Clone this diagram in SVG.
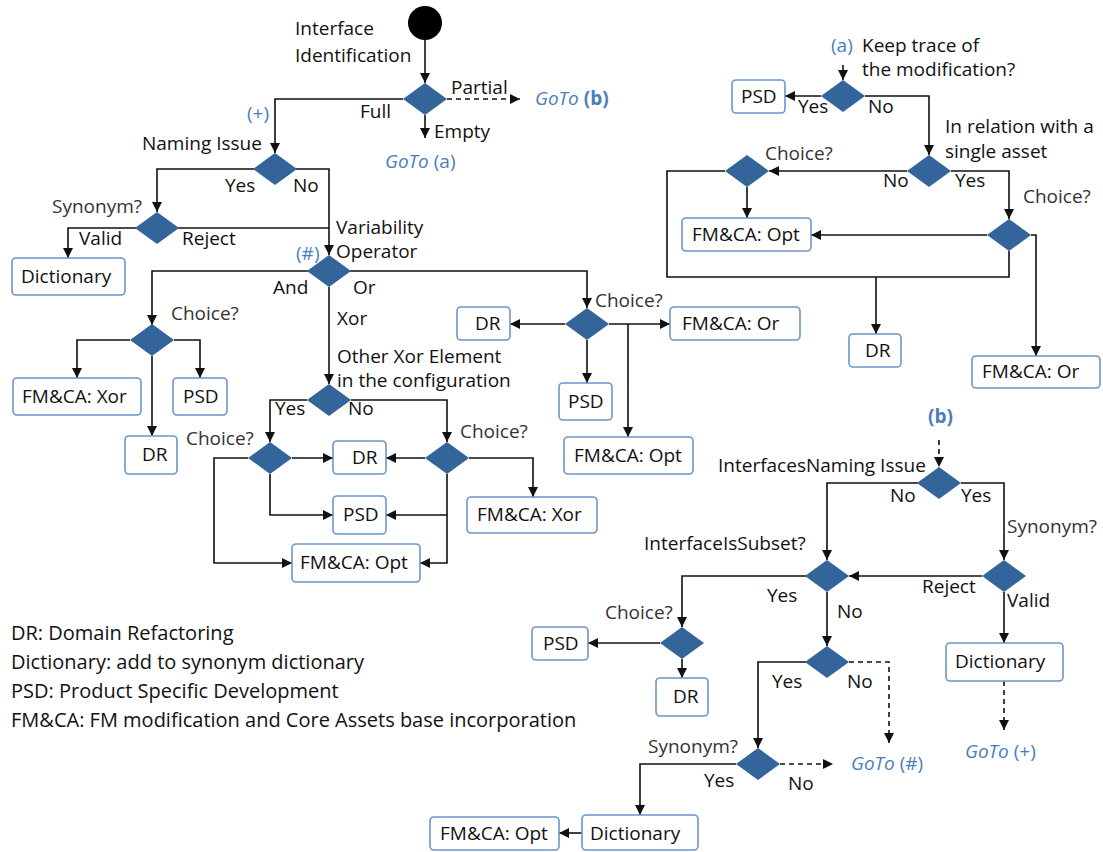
<svg xmlns="http://www.w3.org/2000/svg" width="1103" height="852" viewBox="0 0 1103 852">
<defs>
<style>
.t{font-family:"Open Sans","Noto Sans",sans-serif;font-size:19px;fill:#111}
.lg{font-size:20px}
.g{fill:#333}
.bl{fill:#4a7dbd}
.it{font-style:italic}
.bd{font-weight:bold}
.box{fill:#fff;stroke:#6b95c9;stroke-width:1.6}
.dia{fill:#33649a}
.ln{fill:none;stroke:#111;stroke-width:1.6}
.ar{marker-end:url(#ah)}
.dash{stroke-dasharray:5 4}
</style>
<marker id="ah" markerUnits="userSpaceOnUse" markerWidth="11" markerHeight="11" refX="10" refY="5" orient="auto">
<path d="M0,0 L10,5 L0,10 Z" fill="#111"/>
</marker>
<path id="dm" class="dia" d="M-22,0 L0,-16 L22,0 L0,16 Z"/>
</defs>
<rect width="1103" height="852" fill="#fff"/>

<g id="connectors">
<path class="ln ar" d="M425,40 V83"/>
<path class="ln ar" d="M403,99 H275 V153"/>
<path class="ln ar dash" d="M447,99 H520"/>
<path class="ln ar" d="M425,115 V138"/>
<path class="ln ar" d="M254,169 H157 V212"/>
<path class="ln ar" d="M296,169 H329 V255"/>
<path class="ln" d="M178,228 H329"/>
<path class="ln ar" d="M136,228 H68 V258"/>
<path class="ln ar" d="M308,271 H152 V325"/>
<path class="ln ar" d="M350,271 H587 V308"/>
<path class="ln ar" d="M329,287 V384"/>
<path class="ln ar" d="M130,340 H77 V378"/>
<path class="ln ar" d="M174,340 H200 V378"/>
<path class="ln ar" d="M152,356 V436"/>
<path class="ln ar" d="M307,400 H270 V442"/>
<path class="ln ar" d="M351,400 H447 V442"/>
<path class="ln ar" d="M292,458 H333"/>
<path class="ln ar" d="M270,474 V515 H333"/>
<path class="ln ar" d="M248,458 H214 V563 H292"/>
<path class="ln ar" d="M425,458 H386"/>
<path class="ln ar" d="M447,474 V563 H420"/>
<path class="ln ar" d="M447,515 H386"/>
<path class="ln ar" d="M469,458 H533 V497"/>
<path class="ln ar" d="M565,324 H510"/>
<path class="ln ar" d="M609,324 H670"/>
<path class="ln ar" d="M587,340 V383"/>
<path class="ln ar" d="M628,324 V437"/>
<path class="ln ar" d="M843,65 V80"/>
<path class="ln ar" d="M821,96 H785"/>
<path class="ln ar" d="M865,96 H929 V155"/>
<path class="ln ar" d="M907,171 H769"/>
<path class="ln ar" d="M747,187 V218"/>
<path class="ln" d="M725,171 H667 V277 H1009 V251"/>
<path class="ln ar" d="M876,277 V334"/>
<path class="ln ar" d="M951,171 H1009 V219"/>
<path class="ln ar" d="M987,235 H811"/>
<path class="ln ar" d="M1031,235 H1036 V356"/>
<path class="ln ar dash" d="M939,440 V467"/>
<path class="ln ar" d="M918,483 H827 V560"/>
<path class="ln ar" d="M961,483 H1004 V560"/>
<path class="ln ar" d="M982,576 H849"/>
<path class="ln ar" d="M1004,592 V643"/>
<path class="ln ar dash" d="M1004,681 V730"/>
<path class="ln ar" d="M806,576 H682 V627"/>
<path class="ln ar" d="M827,592 V646"/>
<path class="ln ar" d="M660,643 H588"/>
<path class="ln ar" d="M682,659 V678"/>
<path class="ln ar dash" d="M849,662 H889 V743"/>
<path class="ln ar" d="M806,662 H758 V748"/>
<path class="ln ar dash" d="M780,764 H833"/>
<path class="ln ar" d="M736,764 H640 V815"/>
<path class="ln ar" d="M582,833 H559"/>
</g>

<g id="start"><circle cx="425" cy="23" r="17" fill="#000"/>
<text class="t" x="295" y="35">Interface</text><text class="t" x="295" y="62">Identification</text></g>

<g id="d-identification"><use href="#dm" x="425" y="99"/>
<text class="t" x="360" y="118">Full</text><text class="t" x="451" y="94">Partial</text><text class="t" x="434" y="138">Empty</text>
<text class="t bl" x="535" y="105"><tspan class="it">GoTo</tspan> <tspan class="bd">(b)</tspan></text>
<text class="t bl" x="385" y="168"><tspan class="it">GoTo</tspan> (a)</text></g>

<g id="d-naming"><use href="#dm" x="275" y="169"/>
<text class="t bl" x="247" y="120">(+)</text>
<text class="t" x="142" y="150">Naming Issue</text>
<text class="t" x="225" y="192">Yes</text><text class="t" x="293" y="192">No</text></g>

<g id="d-synonym1"><use href="#dm" x="157" y="228"/>
<text class="t g" x="52" y="213">Synonym?</text>
<text class="t" x="79" y="245">Valid</text><text class="t" x="182" y="245">Reject</text></g>

<g id="n-dictionary1"><rect class="box" x="12" y="258" width="113" height="37" rx="4"/><text class="t" x="21" y="283">Dictionary</text></g>

<g id="d-variability"><use href="#dm" x="329" y="271"/>
<text class="t" x="336" y="234">Variability</text><text class="t" x="336" y="258">Operator</text>
<text class="t bl" x="296" y="260">(#)</text>
<text class="t" x="273" y="294">And</text><text class="t" x="353" y="294">Or</text><text class="t" x="337" y="325">Xor</text></g>

<g id="d-choice-and"><use href="#dm" x="152" y="340"/><text class="t g" x="171" y="320">Choice?</text></g>
<g id="n-fmca-xor1"><rect class="box" x="13" y="378" width="128" height="37" rx="4"/><text class="t" x="22" y="403">FM&amp;CA: Xor</text></g>
<g id="n-psd1"><rect class="box" x="173" y="378" width="54" height="37" rx="4"/><text class="t" x="183" y="403">PSD</text></g>
<g id="n-dr1"><rect class="box" x="125" y="436" width="52" height="38" rx="4"/><text class="t" x="142" y="461">DR</text></g>

<g id="d-otherxor"><use href="#dm" x="329" y="400"/>
<text class="t" x="337" y="363">Other Xor Element</text><text class="t" x="337" y="387">in the configuration</text>
<text class="t" x="275" y="415">Yes</text><text class="t" x="348" y="415">No</text></g>

<g id="d-choice-xor-yes"><use href="#dm" x="270" y="458"/><text class="t g" x="186" y="445">Choice?</text></g>
<g id="d-choice-xor-no"><use href="#dm" x="447" y="458"/><text class="t g" x="460" y="438">Choice?</text></g>
<g id="n-dr2"><rect class="box" x="333" y="441" width="53" height="33" rx="4"/><text class="t" x="352" y="464">DR</text></g>
<g id="n-psd2"><rect class="box" x="333" y="496" width="53" height="38" rx="4"/><text class="t" x="343" y="521">PSD</text></g>
<g id="n-fmca-opt1"><rect class="box" x="292" y="544" width="128" height="38" rx="4"/><text class="t" x="300" y="569">FM&amp;CA: Opt</text></g>
<g id="n-fmca-xor2"><rect class="box" x="467" y="497" width="130" height="36" rx="4"/><text class="t" x="477" y="521">FM&amp;CA: Xor</text></g>

<g id="d-choice-or"><use href="#dm" x="587" y="324"/><text class="t g" x="595" y="307">Choice?</text></g>
<g id="n-dr3"><rect class="box" x="457" y="307" width="53" height="33" rx="4"/><text class="t" x="475" y="330">DR</text></g>
<g id="n-fmca-or1"><rect class="box" x="670" y="307" width="130" height="33" rx="4"/><text class="t" x="682" y="330">FM&amp;CA: Or</text></g>
<g id="n-psd3"><rect class="box" x="559" y="383" width="53" height="37" rx="4"/><text class="t" x="568" y="408">PSD</text></g>
<g id="n-fmca-opt2"><rect class="box" x="564" y="437" width="129" height="37" rx="4"/><text class="t" x="574" y="462">FM&amp;CA: Opt</text></g>

<g id="d-keeptrace"><use href="#dm" x="843" y="96"/>
<text class="t bl" x="831" y="52">(a)</text>
<text class="t" x="862" y="52">Keep trace of</text><text class="t" x="862" y="76">the modification?</text>
<text class="t" x="798" y="113">Yes</text><text class="t" x="868" y="113">No</text></g>
<g id="n-psd4"><rect class="box" x="732" y="80" width="53" height="33" rx="4"/><text class="t" x="741" y="103">PSD</text></g>

<g id="d-relation"><use href="#dm" x="929" y="171"/>
<text class="t" x="945" y="133">In relation with a</text><text class="t" x="945" y="158">single asset</text>
<text class="t" x="883" y="187">No</text><text class="t" x="955" y="187">Yes</text></g>
<g id="d-choice-tr1"><use href="#dm" x="747" y="171"/><text class="t g" x="765" y="160">Choice?</text></g>
<g id="d-choice-tr2"><use href="#dm" x="1009" y="235"/><text class="t g" x="1023" y="203">Choice?</text></g>
<g id="n-fmca-opt3"><rect class="box" x="682" y="218" width="129" height="33" rx="4"/><text class="t" x="692" y="241">FM&amp;CA: Opt</text></g>
<g id="n-dr4"><rect class="box" x="849" y="334" width="52" height="33" rx="4"/><text class="t" x="865" y="357">DR</text></g>
<g id="n-fmca-or2"><rect class="box" x="972" y="356" width="128" height="32" rx="4"/><text class="t" x="982" y="378">FM&amp;CA: Or</text></g>

<g id="d-interfacesnaming"><use href="#dm" x="939" y="483"/>
<text class="t bl bd" x="928" y="423">(b)</text>
<text class="t" x="718" y="472">InterfacesNaming Issue</text>
<text class="t" x="890" y="502">No</text><text class="t" x="961" y="502">Yes</text></g>
<g id="d-synonym2"><use href="#dm" x="1004" y="576"/>
<text class="t g" x="1007" y="533">Synonym?</text>
<text class="t" x="922" y="593">Reject</text><text class="t" x="1007" y="607">Valid</text></g>
<g id="n-dictionary2"><rect class="box" x="946" y="643" width="117" height="38" rx="4"/><text class="t" x="955" y="668">Dictionary</text></g>
<g id="goto-plus"><text class="t bl" x="965" y="758"><tspan class="it">GoTo</tspan> (+)</text></g>

<g id="d-subset"><use href="#dm" x="827" y="576"/>
<text class="t" x="644" y="550">InterfaceIsSubset?</text>
<text class="t" x="767" y="602">Yes</text><text class="t" x="837" y="618">No</text></g>
<g id="d-choice-br"><use href="#dm" x="682" y="643"/><text class="t g" x="605" y="619">Choice?</text></g>
<g id="n-psd5"><rect class="box" x="532" y="627" width="56" height="33" rx="4"/><text class="t" x="543" y="650">PSD</text></g>
<g id="n-dr5"><rect class="box" x="656" y="678" width="52" height="38" rx="4"/><text class="t" x="673" y="703">DR</text></g>

<g id="d-subset-no"><use href="#dm" x="827" y="662"/>
<text class="t" x="772" y="688">Yes</text><text class="t" x="847" y="688">No</text></g>
<g id="goto-hash"><text class="t bl" x="851" y="770"><tspan class="it">GoTo</tspan> (#)</text></g>
<g id="d-synonym3"><use href="#dm" x="758" y="764"/>
<text class="t g" x="648" y="753">Synonym?</text>
<text class="t" x="704" y="787">Yes</text><text class="t" x="788" y="790">No</text></g>
<g id="n-dictionary3"><rect class="box" x="582" y="815" width="116" height="35" rx="4"/><text class="t" x="590" y="840">Dictionary</text></g>
<g id="n-fmca-opt4"><rect class="box" x="430" y="817" width="129" height="33" rx="4"/><text class="t" x="440" y="840">FM&amp;CA: Opt</text></g>

<g id="legend">
<text class="t lg" x="11" y="640">DR: Domain Refactoring</text>
<text class="t lg" x="11" y="669">Dictionary: add to synonym dictionary</text>
<text class="t lg" x="11" y="698">PSD: Product Specific Development</text>
<text class="t lg" x="11" y="727">FM&amp;CA: FM modification and Core Assets base incorporation</text>
</g>
</svg>
